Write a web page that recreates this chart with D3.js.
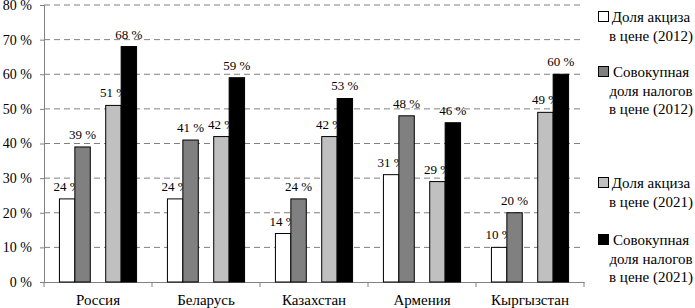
<!DOCTYPE html>
<html>
<head>
<meta charset="utf-8">
<style>
  body { margin: 0; background: #fff; }
  text { font-family: "Liberation Serif", "Times New Roman", serif; fill: #000; }
</style>
</head>
<body>
<svg width="695" height="308"></svg>
<script src="https://d3js.org/d3.v7.min.js"></script>
<script>
// data
var countries = ['Россия', 'Беларусь', 'Казахстан', 'Армения', 'Кыргызстан'];
var excise2012 = [24, 24, 14, 31, 10];
var total2012 = [39, 41, 24, 48, 20];
var excise2021 = [51, 42, 42, 29, 49];
var total2021 = [68, 59, 53, 46, 60];
var yTicks = [0, 10, 20, 30, 40, 50, 60, 70, 80];
var legendLabels = [
  ['Доля акциза', 'в цене (2012)'],
  ['Совокупная', 'доля налогов', 'в цене (2012)'],
  ['Доля акциза', 'в цене (2021)'],
  ['Совокупная', 'доля налогов', 'в цене (2021)']
];

var series = [
  { key: 'e12', values: excise2012, color: '#ffffff' },
  { key: 't12', values: total2012, color: '#808080' },
  { key: 'e21', values: excise2021, color: '#c0c0c0' },
  { key: 't21', values: total2021, color: '#000000' }
];

var svg = d3.select('svg');
var margin = { left: 44, right: 111, top: 5, bottom: 26 };
var width = +svg.attr('width') - margin.left - margin.right;
var height = +svg.attr('height') - margin.top - margin.bottom;
var g = svg.append('g').attr('transform', `translate(${margin.left},${margin.top})`);

var x = d3.scaleBand().domain(countries).range([0, width]);
// empty slot in the middle separates 2012 from 2021
var xi = d3.scaleBand().domain(['e12', 't12', 'gap', 'e21', 't21'])
  .range([0, x.bandwidth()]).paddingOuter(1);
var y = d3.scaleLinear().domain([0, 80]).range([height, 0]);

// grid
g.append('g').selectAll('line').data(yTicks.filter(d => d > 0)).join('line')
  .attr('x1', 0).attr('x2', width)
  .attr('y1', d => y(d)).attr('y2', d => y(d))
  .attr('stroke', '#808080').attr('stroke-dasharray', '6,4');

// y axis
var yAxis = g.append('g')
  .call(d3.axisLeft(y).tickValues(yTicks).tickSize(4).tickFormat(d => d + ' %'));
yAxis.select('.domain').attr('stroke', '#808080');
yAxis.selectAll('.tick line').attr('stroke', '#808080');
yAxis.selectAll('.tick text').attr('x', -12).attr('font-size', 14)
  .attr('font-family', '"Liberation Serif", serif');

// x axis
var xAxis = g.append('g').attr('transform', `translate(0,${height})`)
  .call(d3.axisBottom(x).tickSize(0));
xAxis.select('.domain').attr('stroke', '#808080');
xAxis.selectAll('.tick text').attr('y', 12).attr('font-size', 15)
  .attr('font-family', '"Liberation Serif", serif');
xAxis.selectAll('.sep').data(d3.range(countries.length + 1)).join('line')
  .attr('x1', i => i * x.step()).attr('x2', i => i * x.step())
  .attr('y1', 0).attr('y2', 5).attr('stroke', '#808080');

// bars
series.forEach(function (s) {
  var grp = g.append('g');
  grp.selectAll('rect').data(countries).join('rect')
    .attr('x', (c) => x(c) + xi(s.key))
    .attr('y', (c, i) => y(s.values[i]))
    .attr('width', xi.bandwidth())
    .attr('height', (c, i) => height - y(s.values[i]))
    .attr('fill', s.color).attr('stroke', '#000').attr('stroke-width', 1);
  grp.selectAll('text').data(countries).join('text')
    .attr('x', (c) => x(c) + xi(s.key) + xi.bandwidth() / 2)
    .attr('y', (c, i) => y(s.values[i]) - 8)
    .attr('text-anchor', 'middle').attr('font-size', 13)
    .text((c, i) => s.values[i] + ' %');
});

// legend
var legendTops = [17, 72, 183, 240];
var lg = svg.append('g');
series.forEach(function (s, k) {
  var top = legendTops[k];
  lg.append('rect').attr('x', 598.5).attr('y', top - 5.5).attr('width', 10).attr('height', 10)
    .attr('fill', s.color).attr('stroke', '#000');
  legendLabels[k].forEach(function (line, j) {
    lg.append('text').attr('x', 651).attr('y', top + j * 18.5)
      .attr('dy', '0.35em').attr('text-anchor', 'middle').attr('font-size', 15)
      .text(line);
  });
});
</script>
</body>
</html>
